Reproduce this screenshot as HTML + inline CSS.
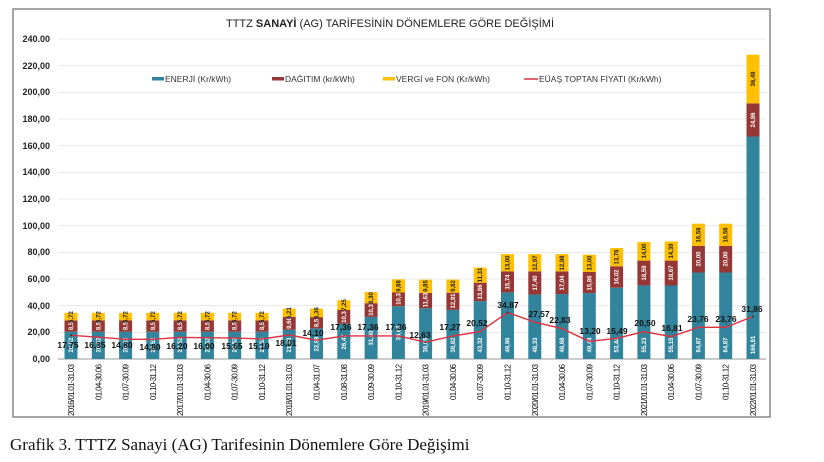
<!DOCTYPE html>
<html><head><meta charset="utf-8"><style>
body{margin:0;background:#fff;width:824px;height:462px;overflow:hidden}
svg{position:absolute;left:0;top:0}
.yl{font:bold 9px "Liberation Sans",sans-serif;fill:#222;text-anchor:end}
.xl{font:8px "Liberation Sans",sans-serif;fill:#111;text-anchor:end}
.bl{font:bold 6px "Liberation Sans",sans-serif;fill:#fff;text-anchor:middle}
.vl{font:bold 6px "Liberation Sans",sans-serif;fill:#222;text-anchor:middle}
.ll{font:bold 8.5px "Liberation Sans",sans-serif;fill:#111;text-anchor:middle}
.lg{font:8.5px "Liberation Sans",sans-serif;fill:#333}
</style></head><body>
<svg width="824" height="462" viewBox="0 0 824 462">
<rect x="13" y="9" width="757" height="408" fill="#fff" stroke="#777" stroke-width="1.3"/>
<text x="390" y="27" text-anchor="middle" style="font:11px 'Liberation Sans',sans-serif;fill:#222">TTTZ <tspan font-weight="bold">SANAYİ</tspan> (AG) TARİFESİNİN DÖNEMLERE GÖRE DEĞİŞİMİ</text>
<g stroke="#e4e4e4" stroke-width="0.8">
<line x1="58" x2="766" y1="39" y2="39"/><line x1="58" x2="766" y1="65.7" y2="65.7"/><line x1="58" x2="766" y1="92.3" y2="92.3"/><line x1="58" x2="766" y1="119" y2="119"/><line x1="58" x2="766" y1="145.7" y2="145.7"/><line x1="58" x2="766" y1="172.3" y2="172.3"/><line x1="58" x2="766" y1="199" y2="199"/><line x1="58" x2="766" y1="225.7" y2="225.7"/><line x1="58" x2="766" y1="252.3" y2="252.3"/><line x1="58" x2="766" y1="279" y2="279"/><line x1="58" x2="766" y1="305.7" y2="305.7"/><line x1="58" x2="766" y1="332.3" y2="332.3"/>
</g>
<line x1="58" x2="766" y1="359" y2="359" stroke="#999" stroke-width="1"/>
<g class="yl">
<text x="50" y="42">240.00</text><text x="50" y="69">220,00</text><text x="50" y="95">200,00</text><text x="50" y="122">180,00</text><text x="50" y="149">160,00</text><text x="50" y="175">140,00</text><text x="50" y="202">120,00</text><text x="50" y="229">100,00</text><text x="50" y="255">80,00</text><text x="50" y="282">60,00</text><text x="50" y="309">40,00</text><text x="50" y="335">20,00</text><text x="50" y="362">0,00</text>
</g>
<rect x="152" y="77" width="12" height="3.5" fill="#31849b"/><text class="lg" x="165" y="82">ENERJİ (Kr/kWh)</text>
<rect x="272" y="77" width="12" height="3.5" fill="#953735"/><text class="lg" x="285" y="82">DAĞITIM (kr/kWh)</text>
<rect x="383" y="77" width="12" height="3.5" fill="#ffc000"/><text class="lg" x="396" y="82">VERGİ ve FON (Kr/kWh)</text>
<line x1="524" x2="538" y1="79" y2="79" stroke="#d9303a" stroke-width="1.5"/><text class="lg" x="539" y="82">EÜAŞ TOPTAN FİYATI (Kr/kWh)</text>
<g fill="#31849b">
<rect x="64.5" y="331.7" width="13" height="27.3"/><rect x="91.8" y="331.7" width="13" height="27.3"/><rect x="119.1" y="331.7" width="13" height="27.3"/><rect x="146.3" y="331.7" width="13" height="27.3"/><rect x="173.6" y="331.7" width="13" height="27.3"/><rect x="200.9" y="331.7" width="13" height="27.3"/><rect x="228.2" y="331.7" width="13" height="27.3"/><rect x="255.5" y="331.7" width="13" height="27.3"/>
<rect x="282.7" y="329.8" width="13" height="29.2"/><rect x="310" y="328.4" width="13" height="30.6"/><rect x="337.3" y="323.7" width="13" height="35.3"/><rect x="364.6" y="316.9" width="13" height="42.1"/><rect x="391.9" y="306.2" width="13" height="52.8"/>
<rect x="419.1" y="308.3" width="13" height="50.7"/><rect x="446.4" y="309.9" width="13" height="49.1"/><rect x="473.7" y="301.2" width="13" height="57.8"/><rect x="501" y="292.4" width="13" height="66.6"/><rect x="528.3" y="294.6" width="13" height="64.4"/><rect x="555.5" y="294.1" width="13" height="64.9"/><rect x="582.8" y="293.1" width="13" height="65.9"/><rect x="610.1" y="287.7" width="13" height="71.3"/><rect x="637.4" y="285.4" width="13" height="73.6"/><rect x="664.7" y="285.5" width="13" height="73.5"/><rect x="691.9" y="272.5" width="13" height="86.5"/><rect x="719.2" y="272.5" width="13" height="86.5"/><rect x="746.5" y="136.5" width="13" height="222.5"/>
</g>
<g fill="#953735">
<rect x="64.5" y="320.4" width="13" height="11.3"/><rect x="91.8" y="320.4" width="13" height="11.3"/><rect x="119.1" y="320.4" width="13" height="11.3"/><rect x="146.3" y="320.4" width="13" height="11.3"/><rect x="173.6" y="320.4" width="13" height="11.3"/><rect x="200.9" y="320.4" width="13" height="11.3"/><rect x="228.2" y="320.4" width="13" height="11.3"/><rect x="255.5" y="320.4" width="13" height="11.3"/>
<rect x="282.7" y="316.9" width="13" height="12.9"/><rect x="310" y="317.1" width="13" height="11.3"/><rect x="337.3" y="310" width="13" height="13.7"/><rect x="364.6" y="303.2" width="13" height="13.7"/><rect x="391.9" y="292.5" width="13" height="13.7"/>
<rect x="419.1" y="292.8" width="13" height="15.5"/><rect x="446.4" y="292.7" width="13" height="17.2"/><rect x="473.7" y="282.7" width="13" height="18.5"/><rect x="501" y="271.4" width="13" height="21"/><rect x="528.3" y="271.4" width="13" height="23.2"/><rect x="555.5" y="271.4" width="13" height="22.7"/><rect x="582.8" y="272" width="13" height="21.1"/><rect x="610.1" y="266.3" width="13" height="21.4"/><rect x="637.4" y="260.6" width="13" height="24.8"/><rect x="664.7" y="260.6" width="13" height="24.9"/><rect x="691.9" y="245.8" width="13" height="26.7"/><rect x="719.2" y="245.8" width="13" height="26.7"/><rect x="746.5" y="103.4" width="13" height="33.1"/>
</g>
<g fill="#ffc000">
<rect x="64.5" y="312.8" width="13" height="7.6"/><rect x="91.8" y="312.8" width="13" height="7.6"/><rect x="119.1" y="312.8" width="13" height="7.6"/><rect x="146.3" y="312.8" width="13" height="7.6"/><rect x="173.6" y="312.8" width="13" height="7.6"/><rect x="200.9" y="312.8" width="13" height="7.6"/><rect x="228.2" y="312.8" width="13" height="7.6"/><rect x="255.5" y="312.8" width="13" height="7.6"/>
<rect x="282.7" y="308.6" width="13" height="8.3"/><rect x="310" y="308.6" width="13" height="8.5"/><rect x="337.3" y="300.3" width="13" height="9.7"/><rect x="364.6" y="292.1" width="13" height="11.1"/><rect x="391.9" y="279.3" width="13" height="13.2"/>
<rect x="419.1" y="279.7" width="13" height="13.1"/><rect x="446.4" y="279.6" width="13" height="13.1"/><rect x="473.7" y="267.6" width="13" height="15.1"/><rect x="501" y="254.1" width="13" height="17.3"/><rect x="528.3" y="254.1" width="13" height="17.3"/><rect x="555.5" y="254.1" width="13" height="17.3"/><rect x="582.8" y="254.7" width="13" height="17.3"/><rect x="610.1" y="248" width="13" height="18.3"/><rect x="637.4" y="241.9" width="13" height="18.7"/><rect x="664.7" y="241.4" width="13" height="19.2"/><rect x="691.9" y="223.7" width="13" height="22.1"/><rect x="719.2" y="223.7" width="13" height="22.1"/><rect x="746.5" y="54.7" width="13" height="48.7"/>
</g>
<g class="bl">
<text transform="translate(73,345) rotate(-90)">20,52</text><text transform="translate(100.3,345) rotate(-90)">20,52</text><text transform="translate(127.6,345) rotate(-90)">20,52</text><text transform="translate(154.8,345) rotate(-90)">20,52</text><text transform="translate(182.1,345) rotate(-90)">20,52</text><text transform="translate(209.4,345) rotate(-90)">20,52</text><text transform="translate(236.7,345) rotate(-90)">20,52</text><text transform="translate(264,345) rotate(-90)">20,52</text>
<text transform="translate(291.2,345) rotate(-90)">21,93</text><text transform="translate(318.5,344) rotate(-90)">22,98</text><text transform="translate(345.8,342) rotate(-90)">26,47</text><text transform="translate(373.1,338) rotate(-90)">31,60</text><text transform="translate(400.4,333) rotate(-90)">39,63</text>
<text transform="translate(427.6,345) rotate(-90)">38,05</text><text transform="translate(454.9,345) rotate(-90)">36,82</text><text transform="translate(482.2,345) rotate(-90)">43,32</text><text transform="translate(509.5,345) rotate(-90)">49,96</text><text transform="translate(536.8,345) rotate(-90)">48,33</text><text transform="translate(564,345) rotate(-90)">48,68</text><text transform="translate(591.3,345) rotate(-90)">49,44</text><text transform="translate(618.6,345) rotate(-90)">53,44</text><text transform="translate(645.9,345) rotate(-90)">55,23</text><text transform="translate(673.2,345) rotate(-90)">55,15</text><text transform="translate(700.4,345) rotate(-90)">64,87</text><text transform="translate(727.7,345) rotate(-90)">64,87</text><text transform="translate(755,345) rotate(-90)">166,91</text>
</g>
<g class="bl">
<text transform="translate(73,326) rotate(-90)">8,5</text><text transform="translate(100.3,326) rotate(-90)">8,5</text><text transform="translate(127.6,326) rotate(-90)">8,5</text><text transform="translate(154.8,326) rotate(-90)">8,5</text><text transform="translate(182.1,326) rotate(-90)">8,5</text><text transform="translate(209.4,326) rotate(-90)">8,5</text><text transform="translate(236.7,326) rotate(-90)">8,5</text><text transform="translate(264,326) rotate(-90)">8,5</text>
<text transform="translate(291.2,323) rotate(-90)">9,66</text><text transform="translate(318.5,323) rotate(-90)">8,5</text><text transform="translate(345.8,317) rotate(-90)">10,3</text><text transform="translate(373.1,310) rotate(-90)">10,3</text><text transform="translate(400.4,299) rotate(-90)">10,3</text>
<text transform="translate(427.6,300) rotate(-90)">11,63</text><text transform="translate(454.9,301) rotate(-90)">12,91</text><text transform="translate(482.2,292) rotate(-90)">13,86</text><text transform="translate(509.5,282) rotate(-90)">15,74</text><text transform="translate(536.8,283) rotate(-90)">17,40</text><text transform="translate(564,283) rotate(-90)">17,04</text><text transform="translate(591.3,283) rotate(-90)">15,86</text><text transform="translate(618.6,277) rotate(-90)">16,02</text><text transform="translate(645.9,273) rotate(-90)">18,59</text><text transform="translate(673.2,273) rotate(-90)">18,67</text><text transform="translate(700.4,259) rotate(-90)">20,00</text><text transform="translate(727.7,259) rotate(-90)">20,00</text><text transform="translate(755,120) rotate(-90)">24,86</text>
</g>
<g class="vl">
<text transform="translate(73,317) rotate(-90)">5,72</text><text transform="translate(100.3,317) rotate(-90)">5,72</text><text transform="translate(127.6,317) rotate(-90)">5,72</text><text transform="translate(154.8,317) rotate(-90)">5,72</text><text transform="translate(182.1,317) rotate(-90)">5,72</text><text transform="translate(209.4,317) rotate(-90)">5,72</text><text transform="translate(236.7,317) rotate(-90)">5,72</text><text transform="translate(264,317) rotate(-90)">5,72</text>
<text transform="translate(291.2,313) rotate(-90)">6,21</text><text transform="translate(318.5,313) rotate(-90)">6,36</text><text transform="translate(345.8,305) rotate(-90)">7,25</text><text transform="translate(373.1,298) rotate(-90)">8,30</text><text transform="translate(400.4,286) rotate(-90)">9,88</text>
<text transform="translate(427.6,286) rotate(-90)">9,85</text><text transform="translate(454.9,286) rotate(-90)">9,82</text><text transform="translate(482.2,275) rotate(-90)">11,31</text><text transform="translate(509.5,263) rotate(-90)">13,00</text><text transform="translate(536.8,263) rotate(-90)">12,97</text><text transform="translate(564,263) rotate(-90)">12,98</text><text transform="translate(591.3,263) rotate(-90)">13,00</text><text transform="translate(618.6,257) rotate(-90)">13,76</text><text transform="translate(645.9,251) rotate(-90)">14,00</text><text transform="translate(673.2,251) rotate(-90)">14,39</text><text transform="translate(700.4,235) rotate(-90)">16,58</text><text transform="translate(727.7,235) rotate(-90)">16,58</text><text transform="translate(755,79) rotate(-90)">36,49</text>
</g>
<polyline fill="none" stroke="#e03040" stroke-width="1.4" points="71,335.3 98.3,337.2 125.6,339.3 152.8,339.3 180.1,337.4 207.4,337.7 234.7,338.1 262,338.9 289.2,335 316.5,340.2 343.8,335.9 371.1,335.9 398.4,335.9 425.6,342.2 452.9,336 480.2,331.6 507.5,312.5 534.8,322.2 562,328.6 589.3,341.4 616.6,338.3 643.9,331.7 671.2,336.6 698.4,327.3 725.7,327.3 753,316.5"/>
<g class="ll">
<text x="68" y="348">17,75</text><text x="95" y="348">16,35</text><text x="122" y="348">14,80</text><text x="150" y="350">14,80</text><text x="177" y="349">16,20</text><text x="204" y="349">16,00</text><text x="232" y="349">15,65</text><text x="259" y="349">15,10</text><text x="286" y="346">18,01</text>
<text x="313" y="336">14,10</text><text x="341" y="330">17,36</text><text x="368" y="330">17,36</text><text x="396" y="330">17,36</text><text x="420" y="338">12,63</text><text x="450" y="330">17,27</text><text x="477" y="326">20,52</text><text x="508" y="308">34,87</text><text x="539" y="317">27,57</text><text x="560" y="323">22,83</text><text x="590" y="334">13,20</text><text x="617" y="334">15,49</text><text x="645" y="326">20,50</text><text x="672" y="331">16,81</text><text x="698" y="322">23,76</text><text x="726" y="322">23,76</text><text x="752" y="312">31,86</text>
</g>
<g fill="#333"><circle cx="71" cy="335.3" r="1"/><circle cx="425.6" cy="342.2" r="1"/><circle cx="507.5" cy="312.5" r="1"/><circle cx="753" cy="316.5" r="1"/></g>
<g class="xl">
<text transform="translate(74,364) rotate(-90)" textLength="52">2016/01.01-31.03</text><text transform="translate(101.3,364) rotate(-90)" textLength="36">01.04-30.06</text><text transform="translate(128.6,364) rotate(-90)" textLength="36">01.07-30.09</text><text transform="translate(155.8,364) rotate(-90)" textLength="36">01.10-31.12</text><text transform="translate(183.1,364) rotate(-90)" textLength="52">2017/01.01-31.03</text><text transform="translate(210.4,364) rotate(-90)" textLength="36">01.04-30.06</text><text transform="translate(237.7,364) rotate(-90)" textLength="36">01.07-30.09</text><text transform="translate(265,364) rotate(-90)" textLength="36">01.10-31.12</text>
<text transform="translate(292.2,364) rotate(-90)" textLength="52">2018/01.01-31.03</text><text transform="translate(319.5,364) rotate(-90)" textLength="36">01.04-31.07</text><text transform="translate(346.8,364) rotate(-90)" textLength="36">01.08-31.08</text><text transform="translate(374.1,364) rotate(-90)" textLength="36">01.09-30.09</text><text transform="translate(401.4,364) rotate(-90)" textLength="36">01.10-31.12</text>
<text transform="translate(428.6,364) rotate(-90)" textLength="52">2019/01.01-31.03</text><text transform="translate(455.9,364) rotate(-90)" textLength="36">01.04-30.06</text><text transform="translate(483.2,364) rotate(-90)" textLength="36">01.07-30.09</text><text transform="translate(510.5,364) rotate(-90)" textLength="36">01.10-31.12</text><text transform="translate(537.8,364) rotate(-90)" textLength="52">2020/01.01-31.03</text><text transform="translate(565,364) rotate(-90)" textLength="36">01.04-30.06</text><text transform="translate(592.3,364) rotate(-90)" textLength="36">01.07-30.09</text><text transform="translate(619.6,364) rotate(-90)" textLength="36">01.10-31.12</text><text transform="translate(646.9,364) rotate(-90)" textLength="52">2021/01.01-31.03</text><text transform="translate(674.2,364) rotate(-90)" textLength="36">01.04-30.06</text><text transform="translate(701.4,364) rotate(-90)" textLength="36">01.07-30.09</text><text transform="translate(728.7,364) rotate(-90)" textLength="36">01.10-31.12</text><text transform="translate(756,364) rotate(-90)" textLength="52">2022/01.01-31.03</text>
</g>
<text x="10" y="450" style="font:17px 'Liberation Serif',serif;fill:#111">Grafik 3. TTTZ Sanayi (AG) Tarifesinin Dönemlere Göre Değişimi</text>
</svg>
</body></html>
